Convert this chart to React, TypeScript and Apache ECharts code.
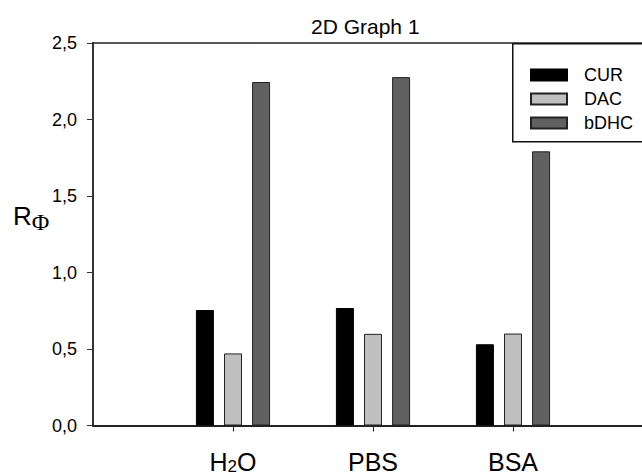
import React, { useEffect, useRef } from "react";
import * as echarts from "echarts";

const categories = ["H2O", "PBS", "BSA"];
const seriesNames = ["CUR", "DAC", "bDHC"];
const curValues = [0.755, 0.768, 0.531];
const dacValues = [0.471, 0.599, 0.601];
const bdhcValues = [2.245, 2.277, 1.792];
const seriesColors = ["#000000", "#c0c0c0", "#606060"];
const yTicks = { min: 0, max: 2.5, interval: 0.5 };

export default function App() {
  const ref = useRef<HTMLDivElement>(null);
  useEffect(() => {
    if (!ref.current) return;
    const chart = echarts.init(ref.current, null, { renderer: "svg" });
    const cats = ["", ...categories, ""];
    const pad = (a: number[]) => ["-", ...a, "-"];
    const values = [curValues, dacValues, bdhcValues];
    const font = "Liberation Sans, Arial, sans-serif";
    chart.setOption({
      animation: false,
      backgroundColor: "#ffffff",
      title: {
        text: "2D Graph 1",
        left: 306,
        top: 11,
        textStyle: { fontFamily: font, fontSize: 21, fontWeight: "normal", color: "#000" },
      },
      grid: { left: 93, right: 7, top: 43, bottom: 48, containLabel: false },
      legend: {
        orient: "vertical",
        left: 525,
        top: 61,
        itemWidth: 36,
        itemHeight: 11,
        itemGap: 6,
        icon: "rect",
        data: seriesNames,
        textStyle: { fontFamily: font, fontSize: 18, lineHeight: 18, color: "#000", padding: [0, 0, 0, 12] },
        z: 10,
      },
      xAxis: [
        {
          type: "category",
          data: cats,
          boundaryGap: false,
          axisLine: { lineStyle: { color: "#222", width: 2 } },
          axisTick: {
            length: 6,
            interval: (i: number, v: string) => v !== "",
            lineStyle: { color: "#222", width: 1 },
          },
          axisLabel: {
            interval: (i: number, v: string) => v !== "",
            margin: 22,
            fontFamily: font,
            fontSize: 25,
            color: "#000",
            formatter: (v: string) => (v === "" ? "" : v === "H2O" ? "{n|H}{s|2}{n|O}" : "{n|" + v + "}"),
            rich: {
              n: { fontFamily: font, fontSize: 25, color: "#000", lineHeight: 28 },
              s: { fontFamily: font, fontSize: 17, color: "#000", lineHeight: 28, padding: [10, 0, 0, 0] },
            },
          },
          splitLine: { show: false },
        },
        {
          type: "category",
          position: "top",
          data: cats,
          boundaryGap: false,
          axisLine: { lineStyle: { color: "#222", width: 1.5 } },
          axisTick: { show: false },
          axisLabel: { show: false },
          splitLine: { show: false },
        },
      ],
      yAxis: {
        type: "value",
        min: yTicks.min,
        max: yTicks.max,
        interval: yTicks.interval,
        axisLine: { show: true, lineStyle: { color: "#333", width: 2 } },
        axisTick: { show: true, length: 6, lineStyle: { color: "#333", width: 1 } },
        axisLabel: {
          margin: 16,
          fontFamily: font,
          fontSize: 18,
          color: "#000",
          formatter: (v: number) => v.toFixed(1).replace(".", ","),
        },
        splitLine: { show: false },
      },
      graphic: [
        {
          type: "rect",
          left: 512,
          top: 43,
          shape: { width: 200, height: 98 },
          style: { fill: "#fff", stroke: "#111", lineWidth: 1.5 },
          z: 5,
        },
        {
          type: "text",
          left: 13,
          top: 198,
          style: {
            text: "{r|R}{p|Φ}",
            rich: {
              r: { fontFamily: font, fontSize: 26, fill: "#000", lineHeight: 30 },
              p: { fontFamily: "Liberation Serif, serif", fontSize: 24, fill: "#000", lineHeight: 30, padding: [12, 0, 0, 0] },
            },
          },
        },
      ],
      series: seriesNames.map((name, i) => ({
        name,
        type: "bar",
        data: pad(values[i]),
        barWidth: 18,
        barGap: "56%",
        itemStyle: {
          color: seriesColors[i],
          borderColor: i === 0 ? "#000" : "#222",
          borderWidth: 1,
        },
      })),
    });
    return () => chart.dispose();
  }, []);
  return <div ref={ref} style={{ position: "fixed", left: 0, top: 0, width: 660, height: 475 }} />;
}
